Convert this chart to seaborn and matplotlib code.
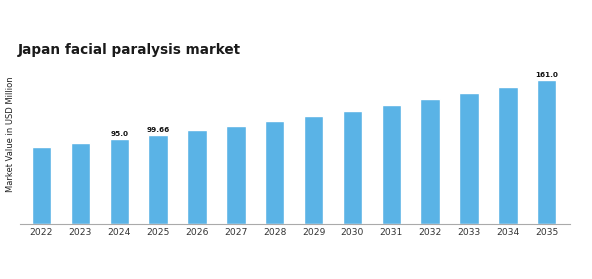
import matplotlib
matplotlib.use("Agg")
import matplotlib.pyplot as plt
import seaborn as sns
import pandas as pd

years = ["2022", "2023", "2024", "2025", "2026", "2027", "2028",
         "2029", "2030", "2031", "2032", "2033", "2034", "2035"]
values = [86.4, 90.7, 95.0, 99.66, 104.8, 110.0, 115.2,
          120.9, 126.6, 132.9, 139.3, 146.1, 153.4, 161.0]
labeled = {"2024": "95.0", "2025": "99.66", "2035": "161.0"}

title = "Japan facial paralysis market"
ylabel = "Market Value in USD Million"

sns.set_theme(style="white")
plt.rcParams['font.family'] = ['DejaVu Sans']

df = pd.DataFrame({"year": years, "value": values})

fig = plt.figure(figsize=(5.92, 2.79), dpi=100)
ax = fig.add_axes([0.034, 0.197, 0.929, 0.606])

sns.barplot(data=df, x="year", y="value", color="#5AB3E6", saturation=1,
            width=0.5, ax=ax)

ax.set_xlim(-0.55, 13.6)
ax.set_ylim(0, 189)

for i, (y, v) in enumerate(zip(years, values)):
    if y in labeled:
        ax.text(i, v + 2.5, labeled[y], ha="center", va="bottom",
                fontsize=5.2, fontweight="bold", color="#111111")

for s in ["top", "right", "left"]:
    ax.spines[s].set_visible(False)
ax.spines["bottom"].set_color("#AAAAAA")
ax.spines["bottom"].set_linewidth(0.8)

ax.set_yticks([])
ax.set_xlabel("")
ax.set_ylabel(ylabel, fontsize=6.0, color="#222222")
ax.yaxis.set_label_coords(-0.009, 0.53)
ax.tick_params(axis="x", labelsize=6.6, colors="#333333", length=0, pad=3)

fig.text(0.03, 0.82, title, fontsize=9.8, fontweight="bold",
         color="#1a1a1a", ha="left", va="center")

fig.savefig("out.png", dpi=100)
